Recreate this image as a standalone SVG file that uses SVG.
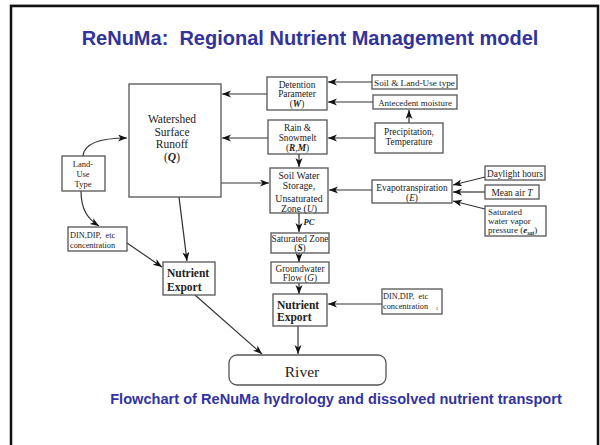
<svg xmlns="http://www.w3.org/2000/svg" width="600" height="445" viewBox="0 0 600 445">
<style>
.frame{fill:none;stroke:#111;stroke-width:2.5}
.bx{fill:#fff;stroke:#555;stroke-width:1.3}
.t{font-family:"Liberation Serif","Times New Roman",serif;fill:#222;text-anchor:middle}
.b{font-weight:bold}
.ln{fill:none;stroke:#333;stroke-width:1.2;marker-end:url(#ah)}
.hd{font-family:"Liberation Sans",Arial,sans-serif;font-weight:bold;text-anchor:middle}
.pre{white-space:pre}
</style>
<defs>
<marker id="ah" markerUnits="userSpaceOnUse" markerWidth="10" markerHeight="8" refX="9" refY="3.5" orient="auto">
<path d="M0,0 L9,3.5 L0,7 L2.5,3.5 z" fill="#111"/>
</marker>
</defs>
<rect x="0" y="0" width="600" height="445" fill="#fff"/>
<line x1="10" y1="4.5" x2="599" y2="4.5" stroke="#ccc" stroke-width="1"/>
<path class="frame" d="M11,447 V6 H598 V447"/>
<text class="hd pre" x="310" y="45" font-size="20" fill="#333399" xml:space="preserve">ReNuMa:  Regional Nutrient Management model</text>

<g id="connectors">
<line class="ln" x1="267" y1="94" x2="222" y2="94"/>
<line class="ln" x1="268" y1="138" x2="222" y2="138"/>
<line class="ln" x1="221" y1="183" x2="269" y2="183"/>
<line class="ln" x1="372" y1="82" x2="328" y2="82"/>
<line class="ln" x1="373" y1="102" x2="328" y2="102"/>
<line class="ln" x1="375" y1="138" x2="328" y2="138"/>
<line class="ln" x1="409" y1="123" x2="409" y2="110"/>
<line class="ln" x1="299" y1="154" x2="299" y2="167"/>
<line class="ln" x1="372" y1="190" x2="329" y2="190"/>
<line class="ln" x1="485" y1="177" x2="453" y2="185"/>
<line class="ln" x1="485" y1="192" x2="453" y2="192"/>
<line class="ln" x1="485" y1="209" x2="453" y2="201"/>
<line class="ln" x1="299" y1="213" x2="299" y2="232"/>
<line class="ln" x1="299" y1="253" x2="299" y2="262"/>
<line class="ln" x1="299" y1="283" x2="299" y2="294"/>
<line class="ln" x1="382" y1="304" x2="328" y2="304"/>
<line class="ln" x1="298" y1="326" x2="298" y2="354"/>
<line class="ln" x1="179" y1="197" x2="187" y2="261"/>
<line class="ln" x1="127" y1="243" x2="162" y2="267"/>
<line class="ln" x1="195" y1="295" x2="262" y2="354"/>
<path class="ln" d="M83,156 C84,144 100,138 127,138"/>
<path class="ln" d="M81,191 C81,210 88,219 99,226"/>
<text class="t b" x="309" y="225" font-size="8.5" font-style="italic">PC</text>
</g>

<g id="watershed">
<rect class="bx" x="129" y="84" width="92" height="113"/>
<text class="t" x="172" y="123" font-size="11.5">Watershed</text>
<text class="t" x="172" y="135.5" font-size="11.5">Surface</text>
<text class="t" x="172" y="148" font-size="11.5">Runoff</text>
<text class="t" x="172" y="161" font-size="11.5">(<tspan font-style="italic" font-weight="bold">Q</tspan>)</text>
</g>

<g id="landuse">
<rect class="bx" x="62" y="156" width="43" height="35"/>
<text class="t" x="83" y="167" font-size="8.5">Land-</text>
<text class="t" x="83" y="177" font-size="8.5">Use</text>
<text class="t" x="83" y="187" font-size="8.5">Type</text>
</g>

<g id="din-left">
<rect class="bx" x="68" y="227" width="59" height="24"/>
<text class="t pre" x="70" y="238" font-size="8.3" style="text-anchor:start" xml:space="preserve">DIN,DIP,  etc</text>
<text class="t" x="70" y="248" font-size="8.3" style="text-anchor:start">concentration</text>
</g>

<g id="export-left">
<rect class="bx" x="163" y="262" width="52" height="33"/>
<text class="t b" x="167" y="277" font-size="11.5" style="text-anchor:start">Nutrient</text>
<text class="t b" x="167" y="291" font-size="11.5" style="text-anchor:start">Export</text>
</g>

<g id="detention">
<rect class="bx" x="267" y="77" width="60" height="33"/>
<text class="t" x="297" y="88" font-size="9.3">Detention</text>
<text class="t" x="297" y="97" font-size="9.3">Parameter</text>
<text class="t" x="297" y="107" font-size="9.3">(<tspan font-style="italic" font-weight="bold">W</tspan>)</text>
</g>

<g id="soil-landuse">
<rect class="bx" x="372" y="75" width="85" height="14"/>
<text class="t" x="414.5" y="85.5" font-size="9.2">Soil &amp; Land-Use type</text>
</g>

<g id="antecedent">
<rect class="bx" x="373" y="95" width="84" height="14"/>
<text class="t" x="415" y="105.5" font-size="8.9">Antecedent moisture</text>
</g>

<g id="rain">
<rect class="bx" x="268" y="120" width="59" height="34"/>
<text class="t" x="297.5" y="131" font-size="9.3">Rain &amp;</text>
<text class="t" x="297.5" y="141" font-size="9.3">Snowmelt</text>
<text class="t" x="297.5" y="151" font-size="9.3">(<tspan font-style="italic" font-weight="bold">R</tspan>,<tspan font-style="italic" font-weight="bold">M</tspan>)</text>
</g>

<g id="precip">
<rect class="bx" x="375" y="123" width="68" height="30"/>
<text class="t" x="409" y="135" font-size="9.3">Precipitation,</text>
<text class="t" x="409" y="145" font-size="9.3">Temperature</text>
</g>

<g id="soilwater">
<rect class="bx" x="270" y="168" width="58" height="45"/>
<text class="t" x="299" y="179" font-size="9.8">Soil Water</text>
<text class="t" x="299" y="189" font-size="9.8">Storage,</text>
<text class="t" x="299" y="202" font-size="9.8">Unsaturated</text>
<text class="t" x="299" y="212" font-size="9.8">Zone (<tspan font-style="italic">U</tspan>)</text>
</g>

<g id="evapo">
<rect class="bx" x="372" y="180" width="80" height="23"/>
<text class="t" x="412" y="191" font-size="9.4">Evapotranspiration</text>
<text class="t" x="412" y="201" font-size="9.4">(<tspan font-style="italic">E</tspan>)</text>
</g>

<g id="daylight">
<rect class="bx" x="485" y="166" width="60" height="14"/>
<text class="t" x="515" y="176.5" font-size="9.4">Daylight hours</text>
</g>

<g id="meanair">
<rect class="bx" x="485" y="185" width="54" height="14"/>
<text class="t" x="512" y="195.5" font-size="9.4">Mean air <tspan font-style="italic">T</tspan></text>
</g>

<g id="satvapor">
<rect class="bx" x="485" y="206" width="61" height="30"/>
<text class="t" x="488" y="215" font-size="9" style="text-anchor:start">Saturated</text>
<text class="t" x="488" y="224" font-size="9" style="text-anchor:start">water vapor</text>
<text class="t" x="488" y="233" font-size="9" style="text-anchor:start">pressure (<tspan font-style="italic" font-weight="bold">e</tspan><tspan font-size="6" dy="1.5" font-style="italic" font-weight="bold">sat</tspan><tspan dy="-1.5">)</tspan></text>
</g>

<g id="saturated">
<rect class="bx" x="271" y="233" width="58" height="20"/>
<text class="t" x="300" y="242" font-size="9.4">Saturated Zone</text>
<text class="t" x="300" y="251" font-size="9.4">(<tspan font-style="italic" font-weight="bold">S</tspan>)</text>
</g>

<g id="groundwater">
<rect class="bx" x="271" y="262" width="58" height="21"/>
<text class="t" x="300" y="272" font-size="9.3">Groundwater</text>
<text class="t" x="300" y="281" font-size="9.3">Flow (<tspan font-style="italic">G</tspan>)</text>
</g>

<g id="export-right">
<rect class="bx" x="273" y="294" width="54" height="32"/>
<text class="t b" x="277" y="309" font-size="11.5" style="text-anchor:start">Nutrient</text>
<text class="t b" x="277" y="321" font-size="11.5" style="text-anchor:start">Export</text>
</g>

<g id="din-right">
<rect class="bx" x="382" y="289" width="60" height="25"/>
<text class="t pre" x="383" y="299" font-size="8.3" style="text-anchor:start" xml:space="preserve">DIN,DIP,  etc</text>
<text class="t" x="383" y="309" font-size="8.3" style="text-anchor:start">concentration</text>
<text class="t" x="437" y="310" font-size="5">1</text>
</g>

<g id="river">
<rect class="bx" x="229" y="355" width="157" height="30" rx="8" ry="8"/>
<text class="t" x="302" y="377" font-size="15.5">River</text>
</g>

<text class="hd" x="336" y="404" font-size="14.6" fill="#3333a0">Flowchart of ReNuMa hydrology and dissolved nutrient transport</text>
</svg>
